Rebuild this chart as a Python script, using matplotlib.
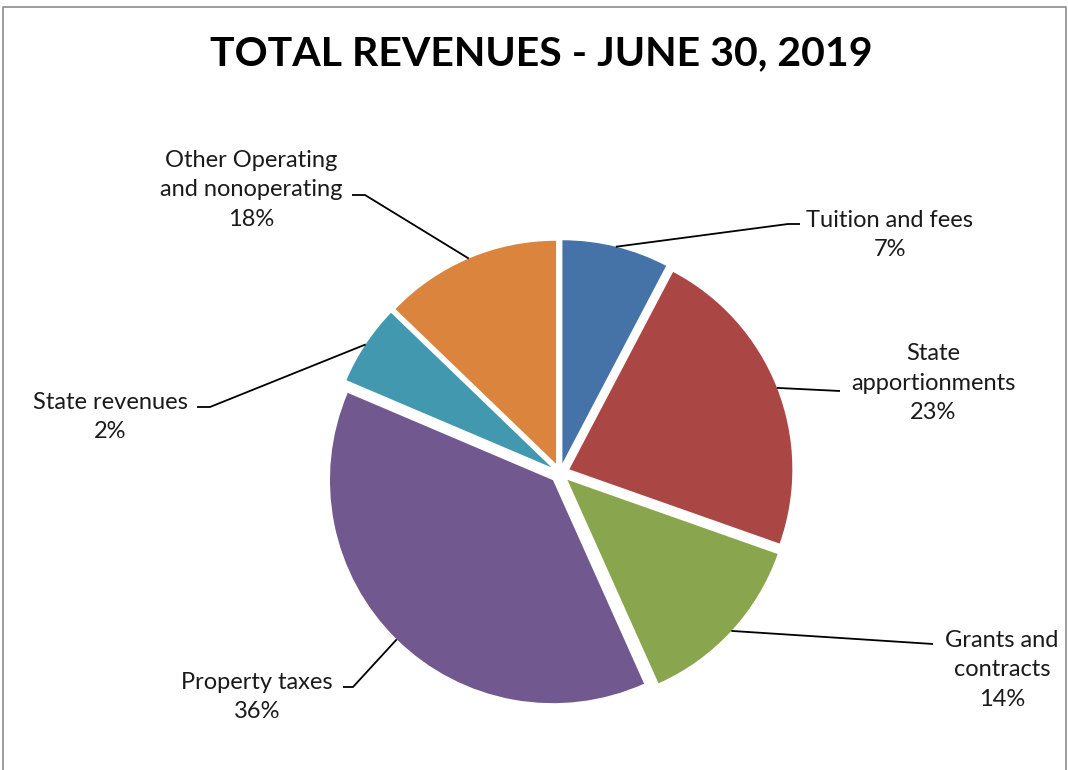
import numpy as np
import matplotlib
matplotlib.use("Agg")
import matplotlib.pyplot as plt

# ---- data ----
categories = ["Tuition and fees", "State\napportionments", "Grants and\ncontracts",
              "Property taxes", "State revenues", "Other Operating\nand nonoperating"]
slice_sizes = [7.7, 22.7, 12.9, 38.1, 5.8, 12.8]      # visual slice sizes
pct_labels = ["7%", "23%", "14%", "36%", "2%", "18%"]  # printed percentages
colors = ["#4572A7", "#AA4643", "#89A54E", "#71588F", "#4198AF", "#DB843D"]
title = "TOTAL REVENUES - JUNE 30, 2019"

W, H = 1068, 770
fig = plt.figure(figsize=(W / 100, H / 100), dpi=100)
ax = fig.add_axes([0, 0, 1, 1])

def Y(y):
    return H - y

cx, cy, R = 560, 473, 223
explode_frac = 0.045
wedges, _ = ax.pie(slice_sizes, colors=colors, startangle=90, counterclock=False,
                   radius=R, center=(cx, Y(cy)), explode=[explode_frac * R] * 6,
                   wedgeprops=dict(linewidth=0))
ax.set_xlim(0, W)
ax.set_ylim(0, H)
ax.set_aspect("auto")
ax.axis("off")

layout = [
    dict(tx=890, ty=235, pts=[(788, 224), (800, 224)]),
    dict(tx=933, ty=383, pts=[(840, 391)]),
    dict(tx=1002, ty=670, pts=[(933, 644)]),
    dict(tx=257, ty=697, pts=[(353, 687), (343, 687)]),
    dict(tx=110, ty=417, pts=[(210, 407), (197, 407)]),
    dict(tx=251, ty=190, pts=[(365, 195), (352, 195)]),
]

font = ["Lato", "DejaVu Sans"]
for w, cat, pct, lay in zip(wedges, categories, pct_labels, layout):
    mid = np.deg2rad((w.theta1 + w.theta2) / 2)
    wx, wy = w.center
    sx = wx + w.r * np.cos(mid)
    sy = wy + w.r * np.sin(mid)
    xs = [sx] + [p[0] for p in lay["pts"]]
    ys = [sy] + [Y(p[1]) for p in lay["pts"]]
    ax.plot(xs, ys, color="black", lw=1.3, solid_capstyle="butt")
    ax.text(lay["tx"], Y(lay["ty"]), cat + "\n" + pct, ha="center", va="center",
            fontsize=17, family=font, color="#1a1a1a", linespacing=1.52)

ax.text(W / 2 + 7, Y(54), title, ha="center", va="center", fontsize=29.5,
        fontweight="bold", family=["Lato", "DejaVu Sans"], color="black")

# chart border
ax.plot([3, 3, 1066, 1066], [Y(780), Y(7), Y(7), Y(780)], color="#8c8c8c", lw=1.2,
        clip_on=False)

fig.savefig("out.png", dpi=100)
